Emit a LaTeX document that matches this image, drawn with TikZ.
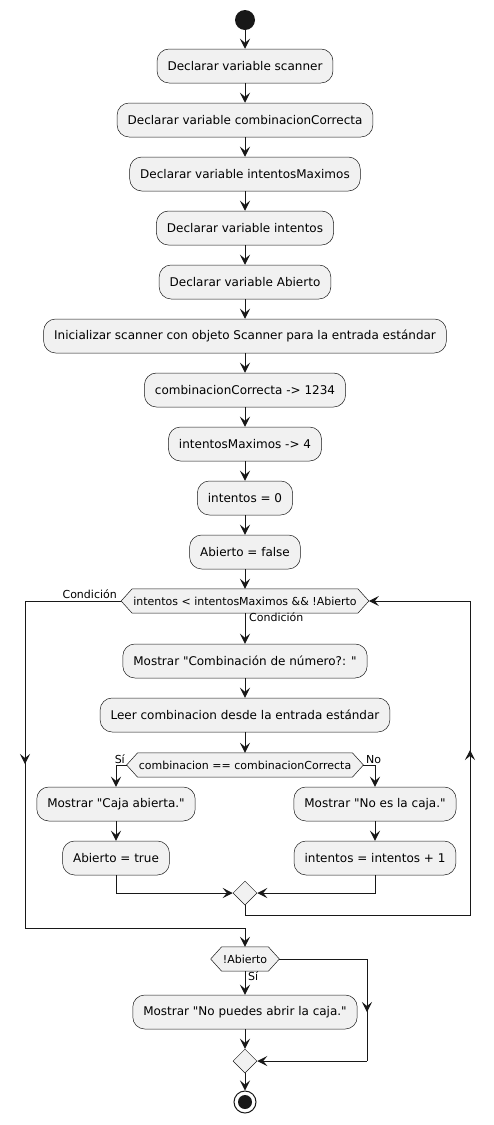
\documentclass[tikz,border=0pt]{standalone}
\usepackage{fontspec}
\setmainfont{DejaVu Sans}[Ligatures=TeXOff]
\usetikzlibrary{arrows.meta,backgrounds,calc,shapes.geometric}
\definecolor{boxfill}{HTML}{F1F1F1}
\definecolor{lin}{HTML}{181818}
\newcommand{\hexshape}[1]{%
  \begin{scope}[on background layer]
    \draw[draw=lin,line width=0.5pt,fill=boxfill] (#1.west) -- ($(#1.north west)+(11,0)$) -- ($(#1.north east)+(-11,0)$) -- (#1.east) -- ($(#1.south east)+(-11,0)$) -- ($(#1.south west)+(11,0)$) -- cycle;
  \end{scope}}
\begin{document}
\begin{tikzpicture}[x=1pt,y=-1pt,
  act/.style={draw=lin, line width=0.5pt, fill=boxfill, rounded corners=12pt, minimum height=34pt, inner xsep=10.5pt, inner ysep=0pt, font=\fontsize{12}{14}\selectfont},
  dec/.style={inner xsep=12pt, inner ysep=0pt, minimum height=24pt, font=\fontsize{11}{13}\selectfont},
  lbl/.style={inner sep=0pt, font=\fontsize{11}{13}\selectfont},
  flow/.style={draw=lin, line width=1pt},
  arr/.style={flow, -{Stealth[length=10pt,width=10pt,inset=4pt]}},
  merge/.style={diamond, draw=lin, line width=0.5pt, fill=boxfill, minimum width=24pt, minimum height=24pt, inner sep=0pt}
]
\useasboundingbox (0,0) rectangle (494,1125);

\node[circle, fill=lin, minimum size=20pt, inner sep=0pt] (start) at (245,20) {};
\node[act] (b1) at (245,66) {Declarar variable scanner};
\node[act] (b2) at (245,120) {Declarar variable combinacionCorrecta};
\node[act] (b3) at (245,174) {Declarar variable intentosMaximos};
\node[act] (b4) at (245,228) {Declarar variable intentos};
\node[act] (b5) at (245,282) {Declarar variable Abierto};
\node[act] (b6) at (245,336) {Inicializar scanner con objeto Scanner para la entrada estándar};
\node[act] (b7) at (245,390) {combinacionCorrecta -> 1234};
\node[act] (b8) at (245,444) {intentosMaximos -> 4};
\node[act] (b9) at (245,498) {intentos = 0};
\node[act] (b10) at (245,552) {Abierto = false};
\node[dec] (loop) at (245,601) {intentos < intentosMaximos \&\& !Abierto};
\hexshape{loop}
\node[act] (b11) at (245,661) {Mostrar "Combinación de número?: "};
\node[act] (b12) at (245,715) {Leer combinacion desde la entrada estándar};
\node[dec] (cond) at (245,765) {combinacion == combinacionCorrecta};
\hexshape{cond}
\node[act] (bl1) at (116,804) {Mostrar "Caja abierta."};
\node[act] (bl2) at (116,858) {Abierto = true};
\node[act] (br1) at (375,804) {Mostrar "No es la caja."};
\node[act] (br2) at (375,858) {intentos = intentos + 1};
\node[merge] (m1) at (245,893) {};
\node[dec] (fin) at (245,959) {!Abierto};
\hexshape{fin}
\node[act] (b13) at (245,1012) {Mostrar "No puedes abrir la caja."};
\node[merge] (m2) at (245,1061) {};
\node[circle, draw=lin, line width=1pt, fill=white, minimum size=22pt, inner sep=0pt] (end) at (245,1102) {};
\node[circle, fill=lin, minimum size=14pt, inner sep=0pt] (endin) at (245,1102) {};

% labels
\node[lbl, anchor=south east] (lc1) at (117,599) {Condición};
\node[lbl, anchor=north west] (lc2) at (249,612) {Condición};
\node[lbl, anchor=south east] (lsi) at (125,764) {Sí};
\node[lbl, anchor=south west] (lno) at (366,764) {No};
\node[lbl, anchor=north west] (lsi2) at (248,971) {Sí};

% coordinates
\coordinate (l1) at (25,601);
\coordinate (lmid) at (25,764);
\coordinate (l2) at (25,928);
\coordinate (l3) at (245,928);
\coordinate (r1) at (245,915);
\coordinate (r2) at (470,915);
\coordinate (rmid) at (470,750);
\coordinate (r3) at (470,601);
\coordinate (f1) at (367,959);
\coordinate (fmid) at (367,1012);
\coordinate (f2) at (367,1061);

% connectors
\draw[arr] (start) -- (b1);
\draw[arr] (b1) -- (b2);
\draw[arr] (b2) -- (b3);
\draw[arr] (b3) -- (b4);
\draw[arr] (b4) -- (b5);
\draw[arr] (b5) -- (b6);
\draw[arr] (b6) -- (b7);
\draw[arr] (b7) -- (b8);
\draw[arr] (b8) -- (b9);
\draw[arr] (b9) -- (b10);
\draw[arr] (b10) -- (loop);
\draw[arr] (loop.south) -- (b11);
\draw[arr] (b11) -- (b12);
\draw[arr] (b12) -- (cond.north);
\draw[arr] (cond.west) -| (bl1.north);
\draw[arr] (bl1) -- (bl2);
\draw[arr] (bl2.south) |- (m1.west);
\draw[arr] (cond.east) -| (br1.north);
\draw[arr] (br1) -- (br2);
\draw[arr] (br2.south) |- (m1.east);
\draw[flow] (m1.south) -- (r1) -- (r2) -- (r3);
\draw[arr] (r2) -- (rmid);
\draw[arr] (r3) -- (loop.east);
\draw[flow] (loop.west) -- (l1) -- (l2) -- (l3);
\draw[arr] (l1) -- (lmid);
\draw[arr] (l3) -- (fin.north);
\draw[arr] (fin.south) -- (b13);
\draw[arr] (b13) -- (m2);
\draw[flow] (fin.east) -- (f1) -- (f2);
\draw[arr] (f1) -- (fmid);
\draw[arr] (f2) -- (m2.east);
\draw[arr] (m2) -- (end);
\end{tikzpicture}
\end{document}
